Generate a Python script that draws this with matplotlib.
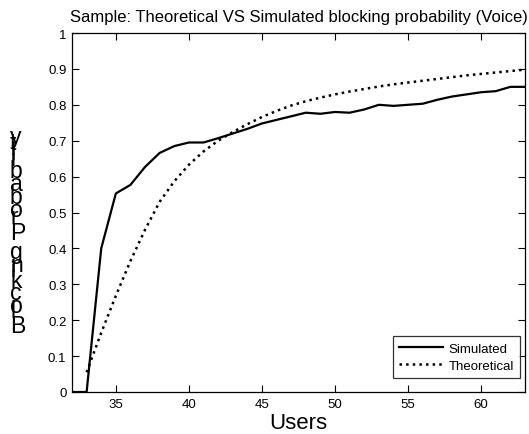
import numpy as np
import matplotlib
matplotlib.use('Agg')
import matplotlib.pyplot as plt

# data
users_sim = [32, 33, 34, 35, 36, 37, 38, 39, 40, 41, 42, 43, 44, 45, 46, 47,
             48, 49, 50, 51, 52, 53, 54, 55, 56, 57, 58, 59, 60, 61, 62, 63]
p_sim = [0.0, 0.0, 0.40, 0.553, 0.577, 0.627, 0.666, 0.685, 0.695, 0.695,
         0.707, 0.72, 0.733, 0.748, 0.758, 0.768, 0.778, 0.775, 0.78, 0.778,
         0.787, 0.80, 0.797, 0.80, 0.803, 0.814, 0.823, 0.829, 0.835, 0.838,
         0.85, 0.85]

users_th = [33, 34, 35, 36, 37, 38, 39, 40, 41, 42, 43, 44, 45, 46, 47, 48,
            49, 50, 51, 52, 53, 54, 55, 56, 57, 58, 59, 60, 61, 62, 63]
p_th = [0.055, 0.165, 0.268, 0.365, 0.452, 0.53, 0.587, 0.633, 0.67, 0.70,
        0.724, 0.746, 0.766, 0.783, 0.798, 0.81, 0.82, 0.829, 0.837, 0.844,
        0.851, 0.857, 0.862, 0.867, 0.872, 0.877, 0.882, 0.886, 0.89, 0.894,
        0.898]

x_ticks = [35, 40, 45, 50, 55, 60]
y_ticks = [0, 0.1, 0.2, 0.3, 0.4, 0.5, 0.6, 0.7, 0.8, 0.9, 1]
y_tick_labels = ['0', '0.1', '0.2', '0.3', '0.4', '0.5', '0.6', '0.7', '0.8', '0.9', '1']

title = 'Sample: Theoretical VS Simulated blocking probability (Voice)'
ylabel = 'Blocking Probability'

plt.rcParams['font.family'] = ['Liberation Sans', 'DejaVu Sans']

fig = plt.figure(figsize=(5.29, 4.35), dpi=100)
ax = fig.add_axes([72 / 529, 1 - 393 / 435, 453 / 529, 359 / 435])

ax.plot(users_sim, p_sim, 'k-', linewidth=1.6, label='Simulated')
ax.plot(users_th, p_th, 'k:', linewidth=1.8, label='Theoretical')

ax.set_xlim(32, 63)
ax.set_ylim(0, 1)
ax.set_xticks(x_ticks)
ax.set_yticks(y_ticks)
ax.set_yticklabels(y_tick_labels)
ax.tick_params(direction='in', top=True, right=True, length=5, width=0.8,
               labelsize=9.5, pad=4)
for s in ax.spines.values():
    s.set_linewidth(0.9)

ax.set_title(title, fontsize=12, pad=9)
ax.set_xlabel('Users', fontsize=16, labelpad=2)

leg = ax.legend(loc='lower right', fontsize=9.5, frameon=True, fancybox=False,
                handlelength=3.3, handletextpad=0.45, borderpad=0.45,
                labelspacing=0.4, borderaxespad=0,
                bbox_to_anchor=(1 - 5 / 453, 14 / 359))
leg.get_frame().set_edgecolor('black')
leg.get_frame().set_linewidth(0.9)

# y label: unrotated glyphs stacked along a vertical baseline, as in the reference
adv = {'B': 667, 'l': 222, 'o': 556, 'c': 500, 'k': 500, 'i': 222, 'n': 556,
       'g': 556, ' ': 278, 'P': 667, 'r': 333, 'b': 556, 'a': 556, 't': 278,
       'y': 500}
em = 23.0  # pixels
pos = 333.0  # baseline of the first glyph, px from top
for ch in ylabel:
    if ch != ' ':
        fig.text(10 / 529, 1 - pos / 435, ch, fontsize=em * 72 / 100,
                 ha='left', va='baseline')
    pos -= adv[ch] / 1000 * em

fig.savefig('out.png', dpi=100)
